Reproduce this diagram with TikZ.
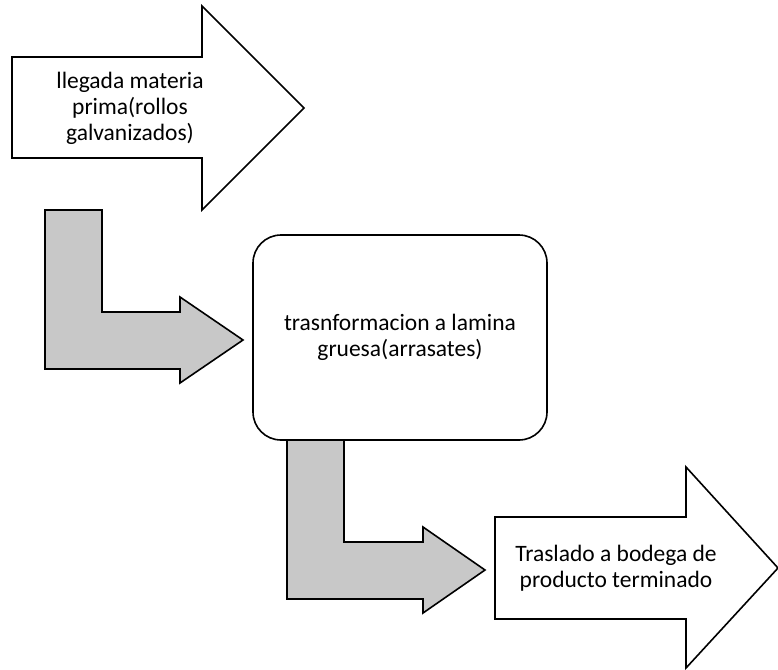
\documentclass[tikz,border=0pt]{standalone}
\usepackage{fontspec}
\setmainfont{Carlito}
\usepackage{xcolor}
\usepackage{tikz}

\definecolor{bendgray}{RGB}{200,200,200}

\tikzset{
  blockarrow/.style={draw=black, line width=1.6pt, fill=white, line join=miter},
  bendarrow/.style={draw=black, line width=1.6pt, fill=bendgray, line join=miter},
  stepbox/.style={draw=black, line width=1.6pt, fill=white, rounded corners=28pt,
                  minimum width=294pt, minimum height=205pt},
  txt/.style={align=center, font=\fontsize{23.5}{26}\selectfont},
}

\begin{document}
\begin{tikzpicture}[x=1pt, y=-1pt]
        \useasboundingbox (0,0) rectangle (778,669);
%
        % entrada
        \draw[blockarrow] (12,57) -- (202,57) -- (202,6) -- (304,108)
            -- (202,210) -- (202,158) -- (12,158) -- cycle;
        \node[txt] (llegada) at (130,108) {llegada materia\\prima(rollos\\galvanizados)};
%
        % flechas grises
        \draw[bendarrow] (45,210) -- (102,210) -- (102,312) -- (180,312) -- (180,297)
            -- (243,340) -- (180,383) -- (180,369) -- (45,369) -- cycle;
        \draw[bendarrow] (287,440) -- (344,440) -- (344,542) -- (423,542) -- (423,527)
            -- (485,570) -- (423,613) -- (423,599) -- (287,599) -- cycle;
%
        \node[stepbox, txt] (trans) at (400,337.5) {trasnformacion a lamina\\gruesa(arrasates)};
%
        % salida
        \draw[blockarrow] (495,517) -- (686,517) -- (686,467) -- (778,568)
            -- (686,668) -- (686,619) -- (495,619) -- cycle;
        \node[txt] (traslado) at (616,568) {Traslado a bodega de\\producto terminado};
\end{tikzpicture}
\end{document}
